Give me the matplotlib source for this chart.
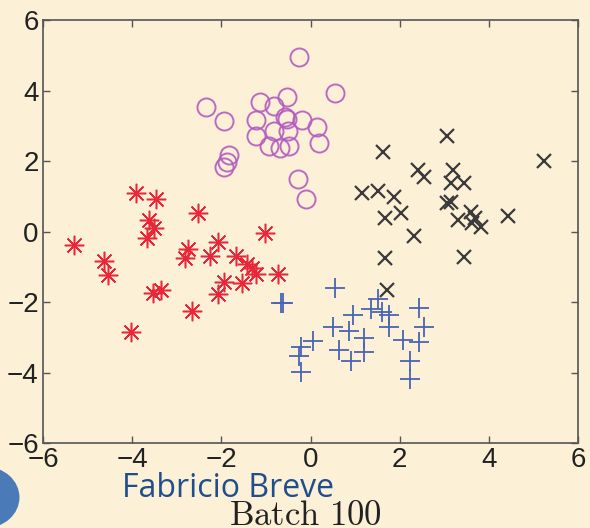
import matplotlib.pyplot as plt
from matplotlib.patches import Circle

plt.rcParams['font.family'] = ['Liberation Sans', 'DejaVu Sans']
plt.rcParams['mathtext.fontset'] = 'cm'

# class 1 - purple circles
circ_x = [-0.26, 0.56, -2.35, -1.94, -1.13, -0.52, -0.83, -1.23, -0.57, -0.52, -0.19, 0.15,
          -1.23, -0.81, -0.51, 0.19, -0.93, -0.68, -0.48, -1.83, -1.88, -1.93, -0.27, -0.11]
circ_y = [4.96, 3.94, 3.54, 3.15, 3.68, 3.81, 3.56, 3.16, 3.24, 3.18, 3.16, 2.96,
          2.71, 2.84, 2.86, 2.50, 2.43, 2.37, 2.43, 2.17, 1.98, 1.84, 1.49, 0.91]

# class 2 - black crosses
x_x = [3.06, 1.62, 5.24, 2.40, 2.55, 3.20, 3.15, 3.45, 1.16, 1.52, 1.88, 3.06, 3.15,
       1.67, 2.03, 3.30, 3.60, 3.69, 3.62, 3.82, 4.42, 2.33, 3.45, 1.67, 1.71]
x_y = [2.71, 2.25, 2.00, 1.74, 1.54, 1.74, 1.37, 1.37, 1.10, 1.16, 0.97, 0.80, 0.85,
       0.37, 0.52, 0.33, 0.56, 0.37, 0.23, 0.14, 0.45, -0.13, -0.71, -0.76, -1.66]

# class 3 - red asterisks
star_x = [-3.92, -3.47, -2.52, -3.62, -3.51, -3.67, -5.30, -2.75, -2.82, -4.63, -4.54,
          -3.53, -3.35, -2.66, -4.03, -1.02, -2.08, -2.25, -1.68, -1.43, -1.23, -0.72,
          -1.93, -1.53, -2.08, -1.32]
star_y = [1.10, 0.91, 0.53, 0.33, 0.09, -0.18, -0.38, -0.50, -0.76, -0.84, -1.23,
          -1.73, -1.66, -2.26, -2.84, -0.05, -0.31, -0.70, -0.69, -0.93, -1.21, -1.21,
          -1.42, -1.47, -1.78, -1.04]

# class 4 - blue plus
plus_x = [0.55, -0.67, -0.62, 1.52, 1.36, 1.60, 0.96, 1.77, 2.43, 0.50, 0.87, 1.77, 2.55,
          0.05, 1.21, 2.08, 2.44, -0.22, 0.65, 1.21, -0.25, 0.90, 2.23, -0.21, 2.23]
plus_y = [-1.61, -2.02, -2.03, -1.92, -2.21, -2.27, -2.37, -2.37, -2.18, -2.70, -2.82, -2.70, -2.70,
          -3.10, -3.03, -3.08, -3.13, -3.29, -3.36, -3.41, -3.53, -3.67, -3.67, -3.98, -4.19]

ticks = [-6, -4, -2, 0, 2, 4, 6]

bg = '#fcf0d6'
fig = plt.figure(figsize=(5.9, 5.28), dpi=100, facecolor=bg)
ax = fig.add_axes([0.0729, 0.161, 0.9068, 0.801])
ax.set_facecolor(bg)

ax.plot(circ_x, circ_y, 'o', ms=13, mfc='none', mec='#b45cc0', mew=1.4, alpha=0.9)
ax.plot(x_x, x_y, 'x', ms=10, mec='#3a3a3a', mew=1.6)
ax.plot(star_x, star_y, ls='none', marker=(8, 2, 0), ms=14, mec='#e8283a', mew=1.1)
ax.plot(plus_x, plus_y, '+', ms=15, mec='#4a64b4', mew=1.3)

ax.set_xlim(-6, 6)
ax.set_ylim(-6, 6)
ax.set_xticks(ticks)
ax.set_yticks(ticks)
ax.tick_params(direction='in', length=5, width=1, colors='#555555', labelcolor='#222222',
               labelsize=20, top=True, right=True, pad=3)
for s in ax.spines.values():
    s.set_color('#555555')
    s.set_linewidth(1.2)

fig.text(0.517, -0.008, r'$\mathrm{Batch\ 100}$', ha='center', va='bottom', fontsize=25, color='#222222')
fig.text(0.206, 0.044, 'Fabricio Breve', ha='left', va='bottom', fontsize=23,
         color='#1f4e8c', family='Open Sans')

fig.patches.append(Circle((-0.025, 0.058), 0.058, transform=fig.transFigure,
                          facecolor='#4a7ab8', edgecolor='none', clip_on=False))

fig.savefig('out.png', dpi=100, facecolor=bg)
